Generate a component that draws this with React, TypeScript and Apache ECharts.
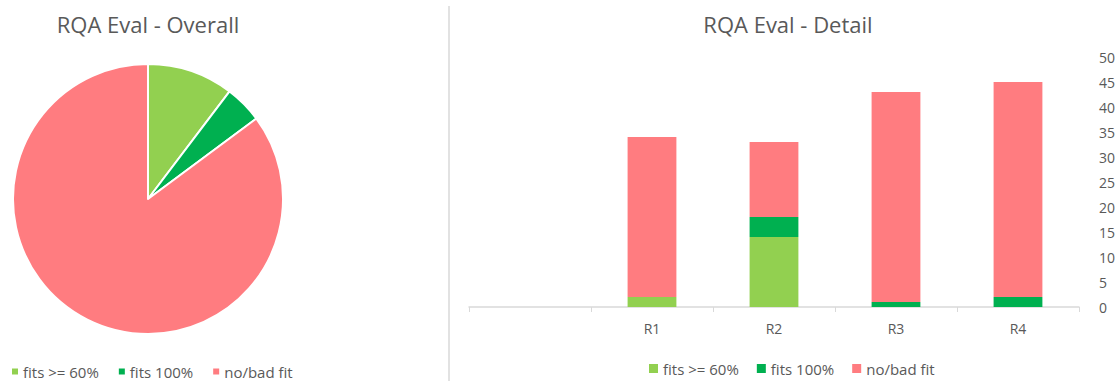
import React, { useEffect, useRef } from "react";
import * as echarts from "echarts";

const seriesNames = ["fits >= 60%", "fits 100%", "no/bad fit"];
const seriesColors = ["#92d050", "#00b050", "#ff7c80"];
const categories = ["", "R1", "R2", "R3", "R4"];
const fits60 = [0, 2, 14, 0, 0];
const fits100 = [0, 0, 4, 1, 2];
const noBadFit = [0, 32, 15, 42, 43];
const overallValues = [16, 7, 132];

const FONT = "'Open Sans', sans-serif";
const TXT = "#595959";

export default function App() {
  const ref = useRef<HTMLDivElement>(null);
  useEffect(() => {
    if (!ref.current) return;
    const chart = echarts.init(ref.current, undefined, { renderer: "svg" });
    const barData = [fits60, fits100, noBadFit];
    chart.setOption({
      animation: false,
      textStyle: { fontFamily: FONT },
      graphic: [
        {
          type: "text",
          style: { text: "RQA Eval - Overall", x: 148, y: 24, textAlign: "center", textVerticalAlign: "middle", fontSize: 22, fill: TXT, fontFamily: FONT },
        },
        {
          type: "text",
          style: { text: "RQA Eval - Detail", x: 788, y: 24, textAlign: "center", textVerticalAlign: "middle", fontSize: 22, fill: TXT, fontFamily: FONT },
        },
        {
          type: "line",
          shape: { x1: 449, y1: 6, x2: 449, y2: 381 },
          style: { stroke: "#d9d9d9", lineWidth: 1.5 },
        },
      ],
      legend: [
        {
          left: 12,
          top: 364,
          padding: 0,
          itemWidth: 6,
          itemHeight: 6,
          itemGap: 20,
          icon: "rect",
          data: seriesNames,
          textStyle: { fontSize: 15, lineHeight: 15, color: TXT, fontFamily: FONT },
          selectedMode: false,
        },
        {
          left: 649,
          top: 361,
          padding: 0,
          itemWidth: 9,
          itemHeight: 9,
          itemGap: 18,
          icon: "rect",
          data: seriesNames,
          textStyle: { fontSize: 15, lineHeight: 15, color: TXT, fontFamily: FONT },
          selectedMode: false,
        },
      ],
      grid: { left: 469, right: 39, top: 57, bottom: 74 },
      xAxis: {
        type: "category",
        data: categories,
        axisLine: { lineStyle: { color: "#d9d9d9", width: 1.5 } },
        axisTick: { show: true, length: 5, lineStyle: { color: "#d9d9d9" } },
        axisLabel: { color: TXT, fontSize: 14, margin: 14, fontFamily: FONT },
      },
      yAxis: {
        type: "value",
        position: "right",
        min: 0,
        max: 50,
        interval: 5,
        splitLine: { show: false },
        axisLine: { show: false },
        axisTick: { show: false },
        axisLabel: { color: TXT, fontSize: 14, margin: 20, fontFamily: FONT },
      },
      series: [
        {
          type: "pie",
          name: "Overall",
          center: [148, 199],
          radius: 135,
          startAngle: 90,
          clockwise: true,
          label: { show: false },
          labelLine: { show: false },
          itemStyle: { borderColor: "#ffffff", borderWidth: 2 },
          data: seriesNames.map((n, i) => ({ name: n, value: overallValues[i], itemStyle: { color: seriesColors[i] } })),
        },
        ...seriesNames.map((n, i) => ({
          type: "bar",
          name: n,
          stack: "total",
          barWidth: "40%",
          itemStyle: { color: seriesColors[i] },
          data: barData[i],
        })),
      ],
    });
    return () => chart.dispose();
  }, []);
  return <div ref={ref} style={{ position: "absolute", left: 0, top: 0, width: 1118, height: 381 }} />;
}
